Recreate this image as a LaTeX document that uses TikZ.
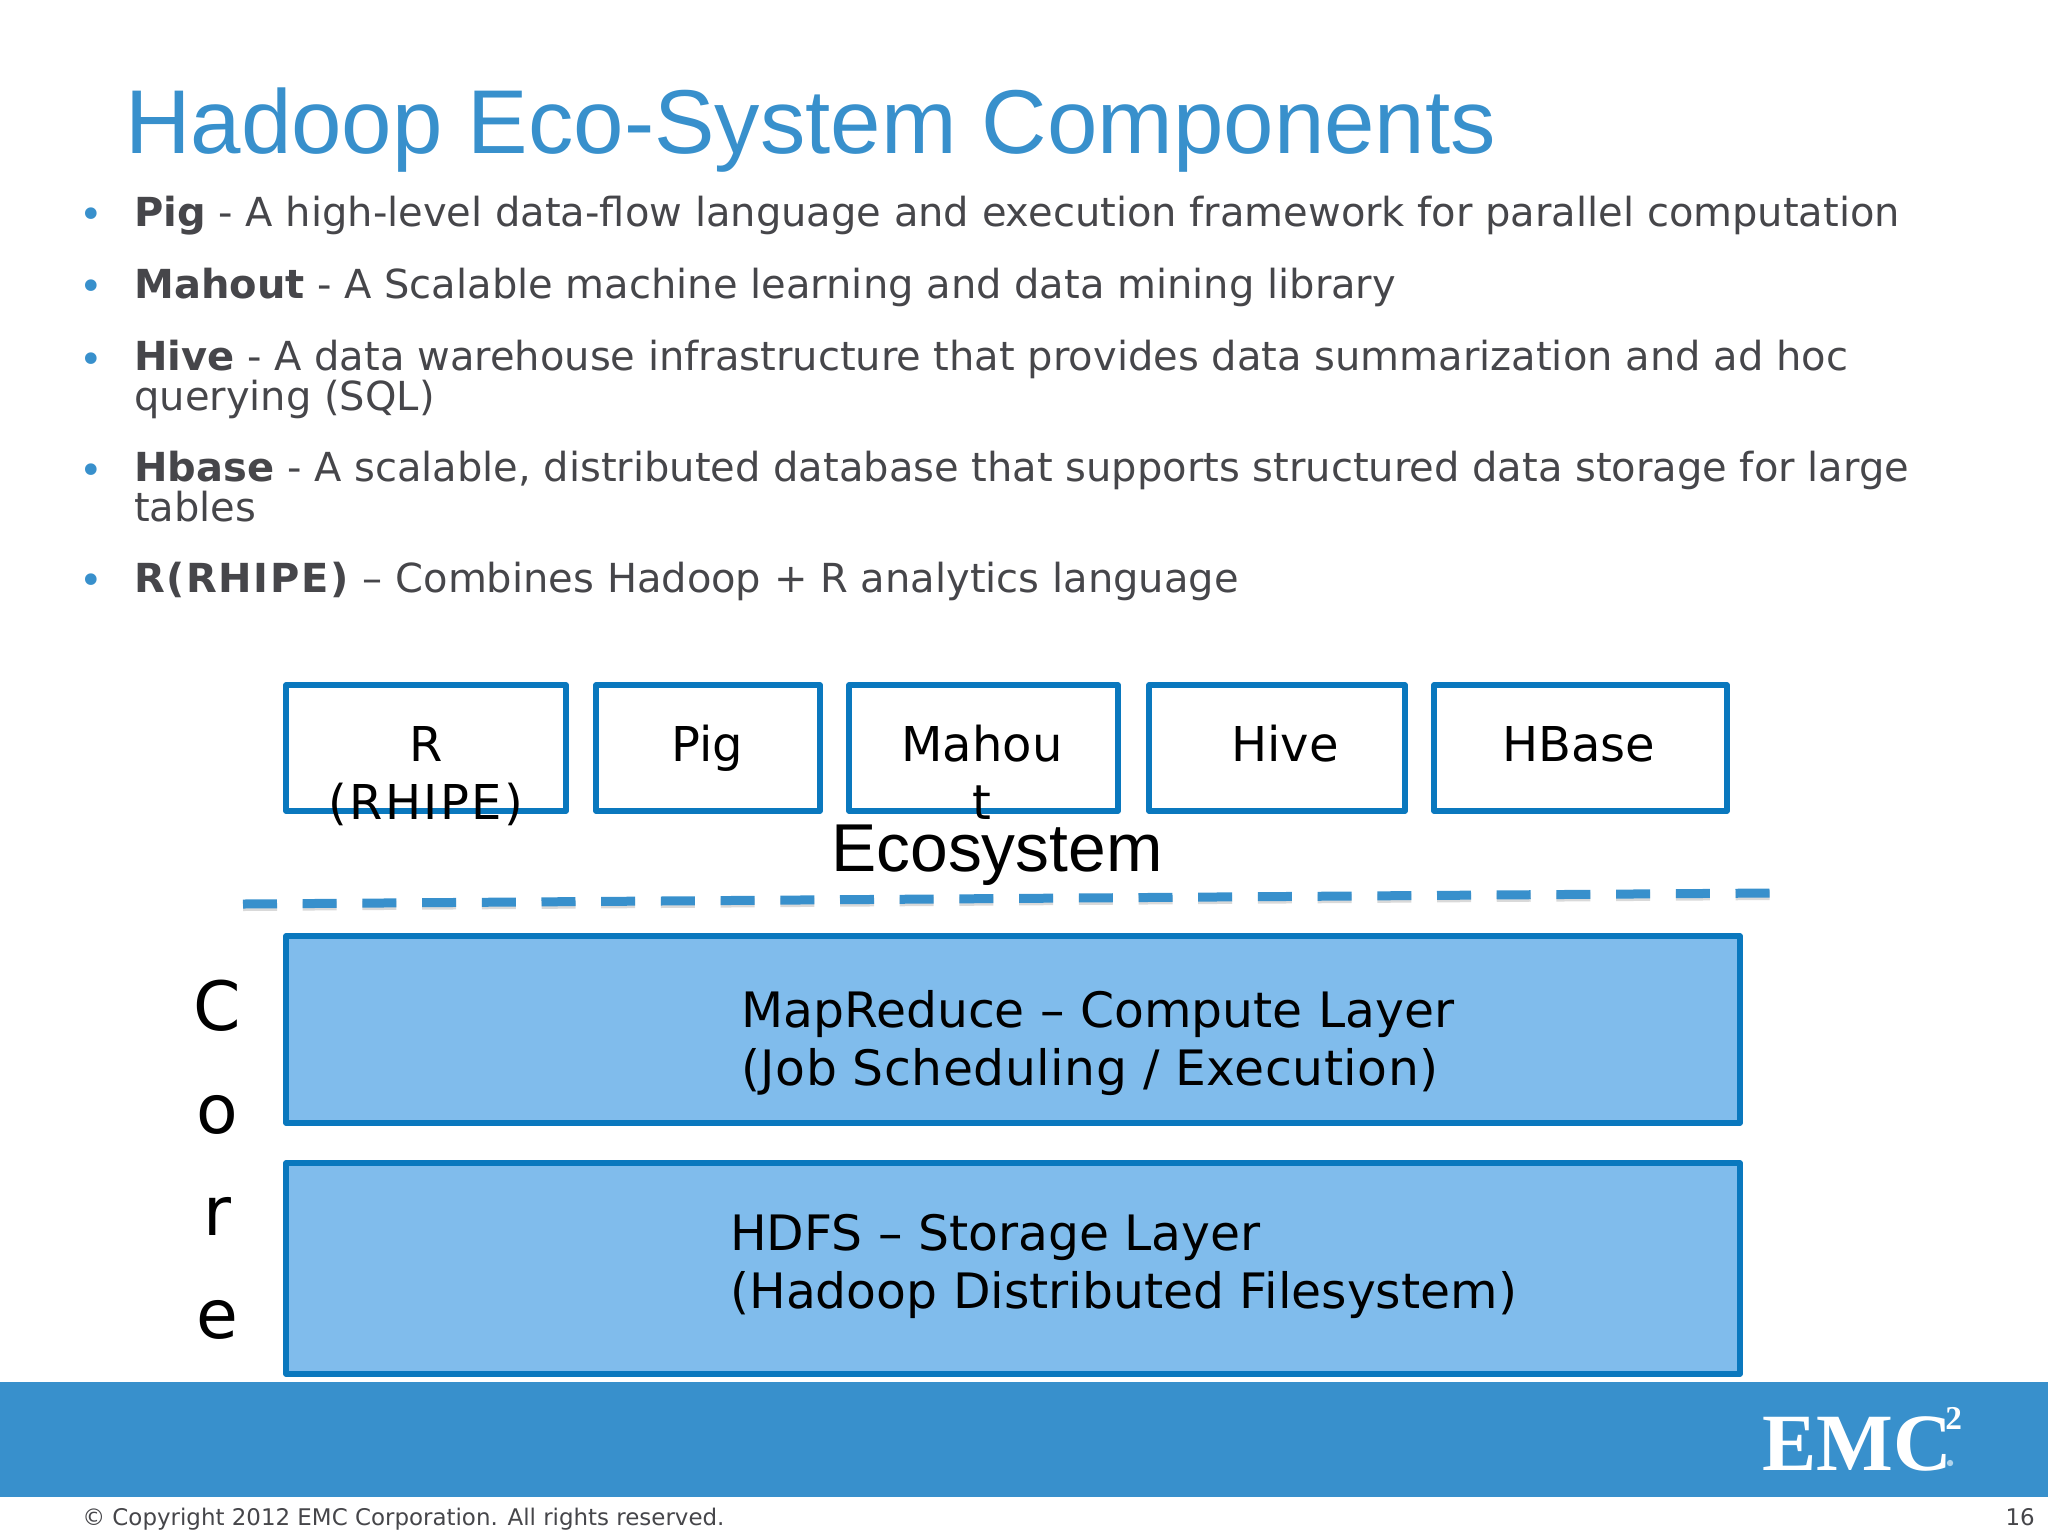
\documentclass[tikz,border=0pt]{standalone}
\usepackage{fontspec}
\usepackage{xcolor}
\setmainfont{DejaVu Sans}
\newfontfamily\arialfont{Liberation Sans}
\newfontfamily\logofont{Liberation Serif}
\definecolor{emcblue}{HTML}{3890CC}
\definecolor{boxedge}{HTML}{0A78BE}
\definecolor{boxfill}{HTML}{80BCEC}
\definecolor{bodygrey}{HTML}{46464A}
\newcommand{\widecaps}[2]{{\addfontfeature{LetterSpace=#1}#2}}
\tikzset{
  toplabel/.style={anchor=base,inner sep=0.75pt,align=center,font=\fontsize{36}{43.5}\selectfont},
  corelabel/.style={anchor=base west,inner sep=0pt,align=left,font=\fontsize{36.6}{43.5}\selectfont},
  bodyline/.style={anchor=base west,inner sep=0pt,align=left,text=bodygrey,font=\fontsize{30}{29.3}\selectfont},
  bulletdot/.style={anchor=base,inner sep=0pt,text=emcblue,font=\fontsize{30}{30}\selectfont},
  topbox/.style={draw=boxedge,line width=4pt,line join=round,fill=white},
  corebox/.style={draw=boxedge,line width=4pt,line join=round,fill=boxfill},
  dividerline/.style={line width=6.75pt},
}
\begin{document}
\begin{tikzpicture}[x=0.75pt,y=0.75pt,yscale=-1,xscale=1]
    \useasboundingbox (0,0) rectangle (2048,1536);

    % title and list
    \draw (125,153) node (title) [anchor=base west,inner sep=0pt,text=emcblue] {\arialfont\fontsize{68}{68}\selectfont Hadoop Eco-System Components};
    \foreach \y in {228.5,300.5,373.5,484.5,594}
      \draw (91,\y) node [bulletdot] {•};
    \draw (134,226) node (pigline) [bodyline] {\textbf{Pig} - A high-level data-flow language and execution framework for parallel computation};
    \draw (134,298) node (mahoutline) [bodyline] {\textbf{Mahout} - A Scalable machine learning and data mining library};
    \draw (134,410) node (hiveline) [bodyline] {\textbf{Hive} - A data warehouse infrastructure that provides data summarization and ad hoc\\querying (SQL)};
    \draw (134,521) node (hbaseline) [bodyline] {\textbf{Hbase} - A scalable, distributed database that supports structured data storage for large\\tables};
    \draw (134,592) node (rline) [bodyline] {\textbf{\widecaps{4}{R(RHIPE)}} – Combines Hadoop + R analytics language};

    % ecosystem boxes
    \draw [topbox] (286,685) -- (566,685) -- (566,811) -- (286,811) -- cycle ;
    \draw [topbox] (596,685) -- (820,685) -- (820,811) -- (596,811) -- cycle ;
    \draw [topbox] (849,685) -- (1118,685) -- (1118,811) -- (849,811) -- cycle ;
    \draw [topbox] (1149,685) -- (1405,685) -- (1405,811) -- (1149,811) -- cycle ;
    \draw [topbox] (1434,685) -- (1727,685) -- (1727,811) -- (1434,811) -- cycle ;
    \draw (426,819) node (rhipe) [toplabel] {R\\\widecaps{5}{(RHIPE)}};
    \draw (707,761) node (pig) [toplabel] {Pig};
    \draw (982,819) node (mahout) [toplabel] {Mahou\\t};
    \draw (1285,761) node (hive) [toplabel] {Hive};
    \draw (1579,761) node (hbase) [toplabel] {HBase};
    \draw (997,871) node (eco) [anchor=base,inner sep=0pt] {\arialfont\fontsize{50.8}{50.8}\selectfont Ecosystem};

    % dashed divider
    \foreach \i in {0,...,25} {
      \draw [black!15,dividerline] (243+59.7*\i,906.5-0.43*\i) -- (277+59.7*\i,906.25-0.43*\i) ;
      \draw [emcblue,dividerline] (243+59.7*\i,904-0.43*\i) -- (277+59.7*\i,903.75-0.43*\i) ;
    }

    % core layers
    \draw [corebox] (286,936) -- (1740,936) -- (1740,1123) -- (286,1123) -- cycle ;
    \draw [corebox] (286,1163) -- (1740,1163) -- (1740,1374) -- (286,1374) -- cycle ;
    \draw (741,1085) node (mapred) [corelabel] {MapReduce – Compute Layer\\\widecaps{1}{(Job Scheduling / Execution)}};
    \draw (730,1308) node (hdfs) [corelabel] {HDFS – Storage Layer\\(Hadoop Distributed Filesystem)};
    \draw (217,1338) node (core) [anchor=base,inner sep=0pt,align=center,font=\fontsize{51}{76.8}\selectfont] {C\\o\\r\\e};

    % footer band
    \fill [emcblue] (0,1382) rectangle (2048,1497);
    \draw (1762,1470) node (emc) [anchor=base west,inner sep=0pt,text=white] {\logofont\bfseries\fontsize{61}{61}\selectfont EMC};
    \draw (1945,1429) node (emctwo) [anchor=base west,inner sep=0pt,text=white] {\logofont\bfseries\fontsize{25}{25}\selectfont 2};
    \fill [white!60!emcblue] (1950,1463) circle (3.2);
    \draw (82,1525) node (copyright) [anchor=base west,inner sep=0pt,text=bodygrey] {\fontsize{17.2}{17.2}\selectfont © Copyright 2012 EMC Corporation. All rights reserved.};
    \draw (2035,1525) node (pagenum) [anchor=base east,inner sep=0pt,text=bodygrey] {\fontsize{17.2}{17.2}\selectfont 16};
\end{tikzpicture}
\end{document}
